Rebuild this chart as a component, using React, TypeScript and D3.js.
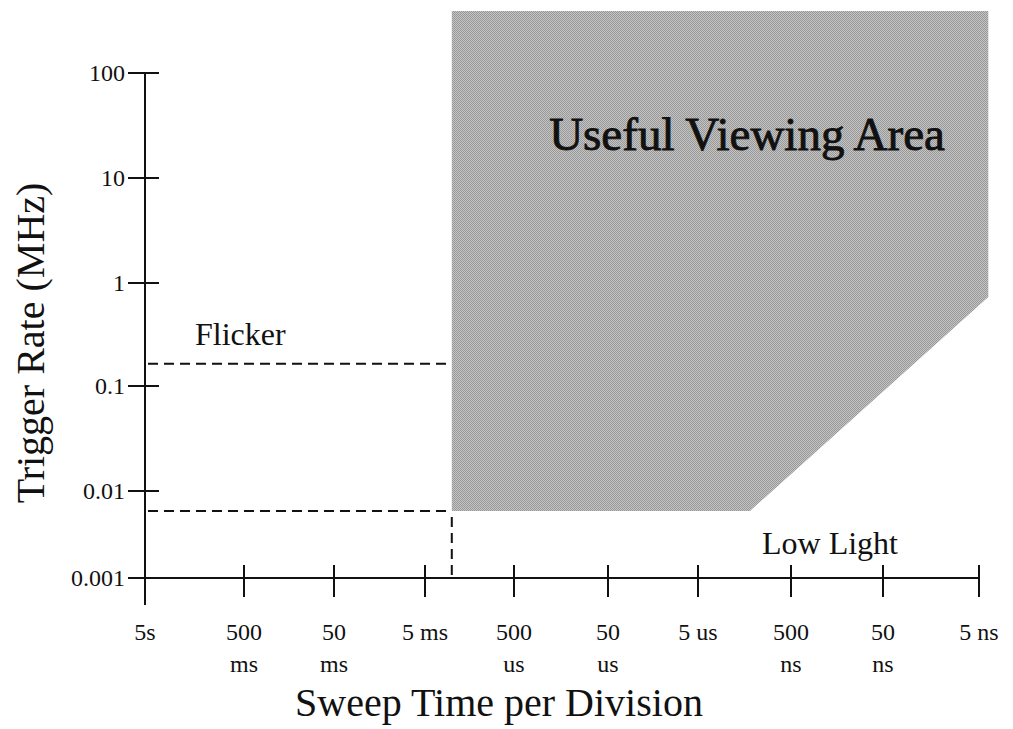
import { useEffect, useRef } from "react"
import * as d3 from "d3"

// trigger rate ticks (MHz)
const rateTicks = [100, 10, 1, 0.1, 0.01, 0.001]
const rateLabels = ["100", "10", "1", "0.1", "0.01", "0.001"]

// sweep time ticks (seconds per division)
const sweepTicks = [5, 0.5, 0.05, 0.005, 5e-4, 5e-5, 5e-6, 5e-7, 5e-8, 5e-9]
const sweepLabelTop = ["5s", "500", "50", "5 ms", "500", "50", "5 us", "500", "50", "5 ns"]
const sweepLabelBottom = ["", "ms", "ms", "", "us", "us", "", "ns", "ns", ""]

// outline of the useful viewing area
const areaSweep = [2.5e-3, 4e-9, 4e-9, 1.38e-6, 2.5e-3]
const areaRate = [390, 390, 0.73, 0.0059, 0.0059]

// dashed limits
const flickerRate = 0.164
const lowLightRate = 0.0059
const areaStartSweep = 2.5e-3

const FONT = "'Liberation Serif', 'Times New Roman', serif"

export default function App() {
  const svgRef = useRef<SVGSVGElement>(null)

  useEffect(() => {
    if (!svgRef.current) return
    const svg = d3.select(svgRef.current)
    svg.selectAll("*").remove()

    // the scanned axes aren't perfectly even, so each decade keeps its own span
    const y = d3.scaleLinear()
      .domain(rateTicks.map(Math.log10))
      .range([73, 178, 283, 386, 491, 578])
    const x = d3.scaleLinear()
      .domain(sweepTicks.map(Math.log10))
      .range([145, 244, 334, 425, 514, 608, 698, 791, 883, 979])
    const px = (v: number) => x(Math.log10(v))
    const py = (v: number) => y(Math.log10(v))

    // halftone-ish fill
    const pat = svg.append("defs").append("pattern")
      .attr("id", "halftone")
      .attr("patternUnits", "userSpaceOnUse")
      .attr("width", 2).attr("height", 2)
    pat.append("rect").attr("width", 2).attr("height", 2).attr("fill", "#c4c4c4")
    pat.append("rect").attr("width", 1).attr("height", 1).attr("fill", "#989898")
    pat.append("rect").attr("x", 1).attr("y", 1).attr("width", 1).attr("height", 1).attr("fill", "#989898")

    const area = d3.line<number>()
      .x((_, i) => px(areaSweep[i]))
      .y(d => py(d))
    svg.append("path")
      .attr("d", area(areaRate) + "Z")
      .attr("fill", "url(#halftone)")

    // dashed limit lines
    const x0 = px(sweepTicks[0])
    const xa = px(areaStartSweep)
    const dashed = svg.append("g")
      .attr("stroke", "#111")
      .attr("stroke-width", 2)
      .attr("stroke-dasharray", "10,6")
      .attr("fill", "none")
    dashed.append("line").attr("x1", x0 + 3).attr("x2", xa).attr("y1", py(flickerRate)).attr("y2", py(flickerRate))
    dashed.append("line").attr("x1", x0 + 3).attr("x2", xa).attr("y1", py(lowLightRate)).attr("y2", py(lowLightRate))
    dashed.append("line").attr("x1", xa).attr("x2", xa).attr("y1", py(lowLightRate) + 6).attr("y2", py(rateTicks[5]))

    // axes
    const yBottom = py(rateTicks[5])
    const axes = svg.append("g").attr("stroke", "#111").attr("stroke-width", 2)
    axes.append("line").attr("x1", x0).attr("x2", x0).attr("y1", py(rateTicks[0])).attr("y2", yBottom + 27)
    axes.append("line").attr("x1", x0 - 17).attr("x2", px(sweepTicks[9]) + 1).attr("y1", yBottom).attr("y2", yBottom)

    axes.selectAll(".ytick")
      .data(rateTicks.slice(0, 5))
      .enter()
      .append("line")
      .attr("x1", x0 - 17).attr("x2", x0 + 14)
      .attr("y1", d => py(d)).attr("y2", d => py(d))

    axes.selectAll(".xtick")
      .data(sweepTicks.slice(1))
      .enter()
      .append("line")
      .attr("x1", d => px(d)).attr("x2", d => px(d))
      .attr("y1", yBottom - 13).attr("y2", yBottom + 19)

    const labels = svg.append("g").attr("font-family", FONT).attr("fill", "#111")

    labels.selectAll(".ylab")
      .data(rateTicks)
      .enter()
      .append("text")
      .attr("x", x0 - 20)
      .attr("y", d => py(d) + 8)
      .attr("text-anchor", "end")
      .attr("font-size", 24)
      .text((_, i) => rateLabels[i])

    labels.selectAll(".xlab1")
      .data(sweepTicks)
      .enter()
      .append("text")
      .attr("x", d => px(d))
      .attr("y", yBottom + 62)
      .attr("text-anchor", "middle")
      .attr("font-size", 24)
      .text((_, i) => sweepLabelTop[i])

    labels.selectAll(".xlab2")
      .data(sweepTicks)
      .enter()
      .append("text")
      .attr("x", d => px(d))
      .attr("y", yBottom + 94)
      .attr("text-anchor", "middle")
      .attr("font-size", 24)
      .text((_, i) => sweepLabelBottom[i])

    // titles and annotations
    labels.append("text")
      .attr("x", 499).attr("y", 716)
      .attr("text-anchor", "middle")
      .attr("font-size", 40)
      .text("Sweep Time per Division")

    labels.append("text")
      .attr("transform", "translate(44,343) rotate(-90)")
      .attr("text-anchor", "middle")
      .attr("font-size", 40)
      .text("Trigger Rate (MHz)")

    labels.append("text")
      .attr("x", 747).attr("y", 150)
      .attr("text-anchor", "middle")
      .attr("font-size", 47)
      .attr("stroke", "#111")
      .attr("stroke-width", 0.9)
      .text("Useful Viewing Area")

    labels.append("text")
      .attr("x", 195).attr("y", 345)
      .attr("font-size", 32)
      .text("Flicker")

    labels.append("text")
      .attr("x", 762).attr("y", 554)
      .attr("font-size", 32)
      .text("Low Light")
  }, [])

  return (
    <svg
      ref={svgRef}
      width={1013}
      height={729}
      style={{ position: "absolute", left: 0, top: 0, background: "#fff" }}
    />
  )
}
